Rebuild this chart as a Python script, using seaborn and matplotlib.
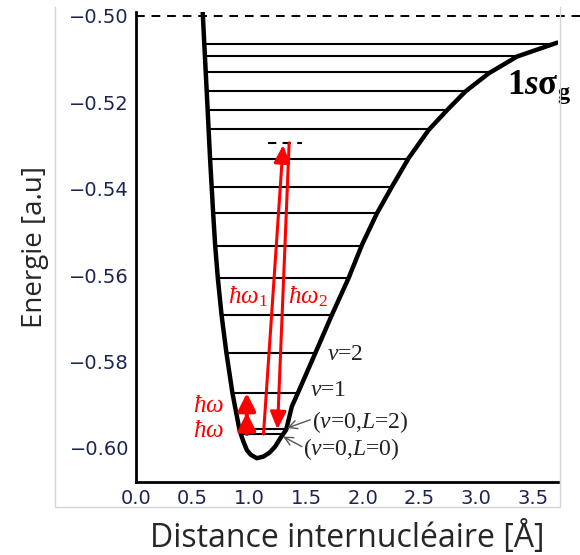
import numpy as np
import matplotlib
matplotlib.use("Agg")
import matplotlib.pyplot as plt
import seaborn as sns
from matplotlib.lines import Line2D

# courbe de potentiel 1s sigma_g
R_curve = [0.587, 0.602, 0.627, 0.653, 0.680, 0.698, 0.721, 0.754, 0.797, 0.850, 0.912,
           0.942, 0.977, 1.012, 1.065, 1.124, 1.177, 1.227, 1.271, 1.324, 1.374, 1.432,
           1.580, 1.727, 1.874, 1.992, 2.124, 2.257, 2.404, 2.580, 2.743, 2.904, 3.109,
           3.360, 3.713]
E_curve = [-0.4986, -0.5065, -0.5194, -0.5331, -0.5456, -0.5532, -0.5606, -0.5692, -0.5780,
           -0.5873, -0.5958, -0.5982, -0.6005, -0.6016, -0.6024, -0.6020, -0.6011, -0.5997,
           -0.5978, -0.5958, -0.5904, -0.5870, -0.5781, -0.5692, -0.5607, -0.5530, -0.5457,
           -0.5395, -0.5329, -0.5264, -0.5218, -0.5175, -0.5133, -0.5094, -0.5062]

# niveaux vibrationnels
levels_E = [-0.5066, -0.5094, -0.5130, -0.5174, -0.5218, -0.5262, -0.5331, -0.5395,
            -0.5456, -0.5532, -0.5607, -0.5692, -0.5781, -0.5872, -0.5957, -0.5968]
E_virtual = -0.5295
R_virtual = [1.165, 1.465]
E_limit = -0.50

# fleches rouges (R, E) depart -> arrivee
hw_R = 0.977
hw_E = [(-0.5968, -0.5918), (-0.5925, -0.5873)]
w1_start, w1_end = (1.124, -0.5968), (1.297, -0.5299)
w2_start, w2_end = (1.350, -0.5294), (1.247, -0.5957)

x_ticks = [0.0, 0.5, 1.0, 1.5, 2.0, 2.5, 3.0, 3.5]
y_ticks = [-0.60, -0.58, -0.56, -0.54, -0.52, -0.50]

sns.set_style("white")
plt.rcParams["font.family"] = ["DejaVu Sans"]
plt.rcParams["mathtext.fontset"] = "custom"
plt.rcParams["mathtext.rm"] = "Liberation Serif"
plt.rcParams["mathtext.it"] = "Liberation Serif:italic"
plt.rcParams["mathtext.bf"] = "Liberation Serif:bold"
plt.rcParams["mathtext.bfit"] = "Liberation Serif:italic:bold"

fig = plt.figure(figsize=(5.8, 5.55), dpi=100)
ax = fig.add_axes([136 / 580, 1 - 482 / 555, (558 - 136) / 580, (482 - 12) / 555])

# cadre gris autour de l'image
for xs, ys in [([0.0948, 0.0948], [0.987, 0.0865]), ([0.9655, 0.9655], [0.987, 0.0865]),
               ([0.0948, 0.9655], [0.0865, 0.0865])]:
    fig.add_artist(Line2D(xs, ys, color="#d4d4d4", lw=1))

# niveaux : bornes trouvées sur les deux branches de la courbe
R = np.array(R_curve)
E = np.array(E_curve)
imin = int(np.argmin(E))
left_R, left_E = R[:imin + 1][::-1], E[:imin + 1][::-1]
right_R, right_E = R[imin:], E[imin:]
lev = np.array(levels_E)
x_left = np.interp(lev, left_E, left_R)
x_right = np.interp(lev, right_E, right_R)
ax.hlines(lev, x_left, x_right, color="black", lw=1.5, zorder=2)

sns.lineplot(x=R_curve, y=E_curve, sort=False, estimator=None, color="black", lw=3.2, ax=ax, zorder=3)

ax.plot([0, 3.92], [E_limit, E_limit], color="black", lw=1.4, dashes=(4.5, 3.5), clip_on=False, zorder=3)
ax.plot(R_virtual, [E_virtual, E_virtual], color="black", lw=1.5, dashes=(4, 3), zorder=3)

red = "#ff0000"
for e0, e1 in hw_E:
    ax.annotate("", xy=(hw_R, e1), xytext=(hw_R, e0),
                arrowprops=dict(arrowstyle="-|>,head_length=0.7,head_width=0.35", color=red,
                                lw=3, mutation_scale=15, shrinkA=0, shrinkB=0), zorder=4)
for s, t in [(w1_start, w1_end), (w2_start, w2_end)]:
    ax.annotate("", xy=t, xytext=s,
                arrowprops=dict(arrowstyle="-|>,head_length=0.7,head_width=0.32", color=red,
                                lw=2.2, mutation_scale=15, shrinkA=0, shrinkB=0), zorder=4)

# etiquettes
ax.text(0.636, -0.5900, r"$\hbar\omega$", color=red, fontsize=18, va="center", ha="center")
ax.text(0.636, -0.5958, r"$\hbar\omega$", color=red, fontsize=18, va="center", ha="center")
ax.text(0.812, -0.5650, r"$\hbar\omega_1$", color=red, fontsize=18, va="center", ha="left")
ax.text(1.342, -0.5650, r"$\hbar\omega_2$", color=red, fontsize=18, va="center", ha="left")

txt = dict(fontsize=17, family="Liberation Serif", color="#222222", va="center", ha="left")
ax.text(1.686, -0.5785, r"$v$=2", **txt)
ax.text(1.536, -0.5868, r"$v$=1", **txt)
ax.text(1.551, -0.5940, r"($v$=0,$L$=2)", **txt)
ax.text(1.474, -0.6002, r"($v$=0,$L$=0)", **txt)
gray = dict(arrowstyle="->,head_length=0.5,head_width=0.25", color="#555555", lw=1,
            mutation_scale=12, shrinkA=0, shrinkB=0)
ax.annotate("", xy=(1.333, -0.5954), xytext=(1.536, -0.5935), arrowprops=gray)
ax.annotate("", xy=(1.297, -0.5974), xytext=(1.462, -0.5997), arrowprops=gray)

ax.text(3.27, -0.5166, r"1$\mathbfit{s}$σ$_\mathbf{g}$", fontsize=25, family="Liberation Serif",
        fontweight="bold", va="center", ha="left", color="black")

# axes
ax.set_xlim(0, 3.72)
ax.set_ylim(-0.6079, -0.4991)
ax.set_xticks(x_ticks)
ax.set_xticklabels([f"{v:.1f}" for v in x_ticks])
ax.set_yticks(y_ticks)
ax.set_yticklabels([f"{v:.2f}".replace("-", "\u2212") for v in y_ticks])
ax.set_xticks(np.arange(0, 3.72, 0.1), minor=True)
ax.set_yticks(np.arange(-0.605, -0.499, 0.005), minor=True)
ax.tick_params(which="major", direction="in", length=7, width=1.5, labelsize=14,
               labelcolor="#1c2452", pad=5)
ax.tick_params(which="minor", direction="in", length=4.5, width=1.2)
ax.tick_params(axis="x", which="major", length=5)
ax.tick_params(axis="x", which="minor", length=3.5)
for side in ["top", "right"]:
    ax.spines[side].set_visible(False)
for side in ["left", "bottom"]:
    ax.spines[side].set_linewidth(2)
    ax.spines[side].set_color("black")

ax.set_xlabel("Distance internucléaire [Å]", fontsize=23, family="Open Sans")
ax.set_ylabel("Energie [a.u]", fontsize=20, family="Open Sans")
ax.xaxis.set_label_coords(0.5, -0.082)
ax.yaxis.set_label_coords(-0.205, 0.5)

fig.savefig("out.png", dpi=100)
